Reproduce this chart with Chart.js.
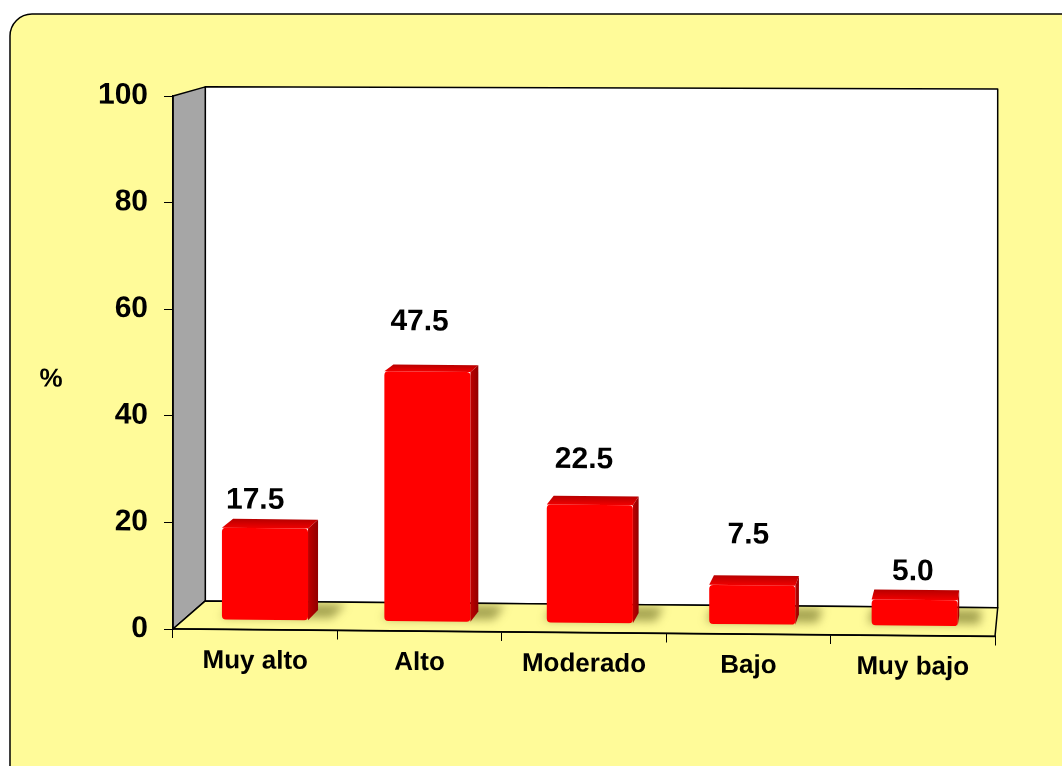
<!DOCTYPE html>
<html lang="es">
<head>
<meta charset="utf-8">
<title>Nivel</title>
<script src="https://cdn.jsdelivr.net/npm/chart.js@4.4.1/dist/chart.umd.min.js"></script>
<style>
  html, body { margin: 0; padding: 0; background: #fff; }
  canvas { display: block; }
</style>
</head>
<body>
<canvas id="grafico" width="1062" height="766"></canvas>
<script>
const niveles = ["Muy alto", "Alto", "Moderado", "Bajo", "Muy bajo"];
const porcentajes = [17.5, 47.5, 22.5, 7.5, 5.0];
const ticksY = [0, 20, 40, 60, 80, 100];

const amarillo = '#FFFB99';
const fuente = '"Liberation Sans", Arial, sans-serif';

// profundidades relativas hacia el punto de fuga (arriba a la derecha)
const PARED = 0.036, BARRA_FRENTE = 0.012, BARRA_ATRAS = 0.025;
// leve inclinación del gráfico hacia abajo a la derecha
const INCLINACION = 0.009;
// desplazamiento vertical de cada etiqueta sobre su barra
const alturaEtiqueta = [-36, -56, -53, -59, -37];

function fuga(a) {
  return { x: a.right + 75, y: a.top - 256 };
}
function fondo(a, p, f) {
  const v = fuga(a);
  return { x: p.x + f * (v.x - p.x), y: p.y + f * (v.y - p.y) };
}
// el borde superior de la pared se inclina menos que el piso
function enderezar(a, p) {
  const k = 0.7 * INCLINACION * (p.x - a.left) * (a.bottom - p.y) / (a.bottom - a.top);
  return { x: p.x, y: p.y - k };
}
function trazar(ctx, pts) {
  ctx.beginPath();
  ctx.moveTo(pts[0].x, pts[0].y);
  for (let i = 1; i < pts.length; i++) ctx.lineTo(pts[i].x, pts[i].y);
  ctx.closePath();
}
function poligono(ctx, pts, relleno) {
  trazar(ctx, pts);
  ctx.fillStyle = relleno;
  ctx.fill();
  ctx.lineWidth = 1.5;
  ctx.strokeStyle = '#000';
  ctx.lineJoin = 'round';
  ctx.stroke();
}

const efecto3d = {
  id: 'efecto3d',
  beforeDraw(chart) {
    const ctx = chart.ctx, a = chart.chartArea;
    // marco amarillo redondeado
    ctx.save();
    ctx.beginPath();
    ctx.roundRect(10, 14, chart.width + 40, chart.height + 40, 22);
    ctx.fillStyle = amarillo;
    ctx.fill();
    ctx.lineWidth = 1.5;
    ctx.strokeStyle = '#000';
    ctx.stroke();
    ctx.restore();

    // todo lo demás va inclinado; se restaura en afterDraw
    ctx.save();
    ctx.transform(1, INCLINACION, 0, 1, 0, -INCLINACION * a.left);

    // paredes y piso
    const fTL = { x: a.left, y: a.top }, fBL = { x: a.left, y: a.bottom };
    const fBR = { x: a.right, y: a.bottom }, fTR = { x: a.right, y: a.top };
    const [bTL, bBL, bBR, bTR] = [fTL, fBL, fBR, fTR].map(p => enderezar(a, fondo(a, p, PARED)));
    ctx.save();
    poligono(ctx, [bTL, bTR, bBR, bBL], '#fff');
    poligono(ctx, [fTL, bTL, bBL, fBL], '#A6A6A6');
    poligono(ctx, [fBL, fBR, bBR, bBL], amarillo);
    ctx.restore();
  },
  beforeDatasetsDraw(chart) {
    const ctx = chart.ctx, a = chart.chartArea;
    const meta = chart.getDatasetMeta(0);

    // sombra difusa de cada barra sobre el piso
    ctx.save();
    const piso = [
      { x: a.left, y: a.bottom }, { x: a.right, y: a.bottom },
      fondo(a, { x: a.right, y: a.bottom }, PARED), fondo(a, { x: a.left, y: a.bottom }, PARED)
    ];
    trazar(ctx, piso);
    ctx.clip();
    ctx.filter = 'blur(5px)';
    ctx.fillStyle = 'rgba(90,90,20,0.55)';
    meta.data.forEach(bar => {
      const { x, base, width } = bar.getProps(['x', 'base', 'width'], true);
      const l = x - width / 2 - 4, r = x + width / 2 + 22;
      trazar(ctx, [
        fondo(a, { x: l, y: base }, BARRA_FRENTE + 0.003),
        fondo(a, { x: r, y: base }, BARRA_FRENTE + 0.003),
        fondo(a, { x: r, y: base }, PARED - 0.003),
        fondo(a, { x: l, y: base }, PARED - 0.003)
      ]);
      ctx.fill();
    });
    ctx.restore();

    // las caras frontales se dibujan un poco hacia el fondo
    const v = fuga(a);
    ctx.save();
    ctx.translate(BARRA_FRENTE * v.x, BARRA_FRENTE * v.y);
    ctx.scale(1 - BARRA_FRENTE, 1 - BARRA_FRENTE);
  },
  afterDatasetsDraw(chart) {
    const ctx = chart.ctx, a = chart.chartArea;
    ctx.restore();
    const meta = chart.getDatasetMeta(0);
    ctx.save();
    meta.data.forEach(bar => {
      const { x, y, base, width } = bar.getProps(['x', 'y', 'base', 'width'], true);
      const l = x - width / 2, r = x + width / 2;
      const fTL = fondo(a, { x: l, y: y }, BARRA_FRENTE), fTR = fondo(a, { x: r, y: y }, BARRA_FRENTE);
      const bTL = fondo(a, { x: l, y: y }, BARRA_ATRAS), bTR = fondo(a, { x: r, y: y }, BARRA_ATRAS);
      const fBR = fondo(a, { x: r, y: base }, BARRA_FRENTE), bBR = fondo(a, { x: r, y: base }, BARRA_ATRAS);

      // cara superior
      const gSup = ctx.createLinearGradient(0, fTL.y, 0, bTL.y);
      gSup.addColorStop(0, '#F00000');
      gSup.addColorStop(1, '#B80000');
      trazar(ctx, [fTL, fTR, bTR, bTL]);
      ctx.fillStyle = gSup;
      ctx.fill();

      // cara lateral derecha
      const gLat = ctx.createLinearGradient(fTR.x, 0, bTR.x, 0);
      gLat.addColorStop(0, '#C00000');
      gLat.addColorStop(1, '#900000');
      trazar(ctx, [fTR, bTR, bBR, fBR]);
      ctx.fillStyle = gLat;
      ctx.fill();
    });
    ctx.restore();
  },
  afterDraw(chart) {
    const ctx = chart.ctx, a = chart.chartArea;
    const xs = chart.scales.x, ys = chart.scales.y;
    ctx.save();
    ctx.fillStyle = '#000';
    ctx.textAlign = 'center';
    ctx.textBaseline = 'middle';

    // etiquetas de valor
    ctx.font = 'bold 30px ' + fuente;
    porcentajes.forEach((v, i) => {
      ctx.fillText(v.toFixed(1), xs.getPixelForValue(i), ys.getPixelForValue(v) + alturaEtiqueta[i]);
    });

    // título del eje
    ctx.font = 'bold 26px ' + fuente;
    ctx.fillText('%', 51, (a.top + a.bottom) / 2 + 18);
    ctx.restore();
    // fin de la inclinación
    ctx.restore();
  }
};

Chart.defaults.font.family = fuente;
Chart.defaults.color = '#000';

const grafico = new Chart(document.getElementById('grafico'), {
  type: 'bar',
  data: {
    labels: niveles,
    datasets: [{
      data: porcentajes,
      backgroundColor: '#FF0000',
      borderWidth: 0,
      borderRadius: 4,
      borderSkipped: false,
      categoryPercentage: 1,
      barPercentage: 0.53
    }]
  },
  options: {
    responsive: false,
    animation: false,
    devicePixelRatio: 1,
    layout: { padding: { top: 96, right: 67, left: 0, bottom: 0 } },
    plugins: {
      legend: { display: false },
      tooltip: { enabled: false }
    },
    scales: {
      x: {
        offset: true,
        grid: { display: true, drawOnChartArea: false, offset: true, tickLength: 9, color: '#000', lineWidth: 1 },
        border: { color: '#000', width: 1.5 },
        ticks: { font: { size: 26, weight: 'bold' }, color: '#000', padding: 7, maxRotation: 0, autoSkip: false },
        afterFit(scale) { scale.height = 137; }
      },
      y: {
        min: 0,
        max: 100,
        afterBuildTicks(scale) { scale.ticks = ticksY.map(v => ({ value: v })); },
        grid: { display: true, drawOnChartArea: false, tickLength: 9, color: '#000', lineWidth: 1 },
        border: { color: '#000', width: 1.5 },
        ticks: { font: { size: 30, weight: 'bold' }, color: '#000', padding: 16 },
        afterFit(scale) { scale.width = 173; }
      }
    }
  },
  plugins: [efecto3d]
});
</script>
</body>
</html>
